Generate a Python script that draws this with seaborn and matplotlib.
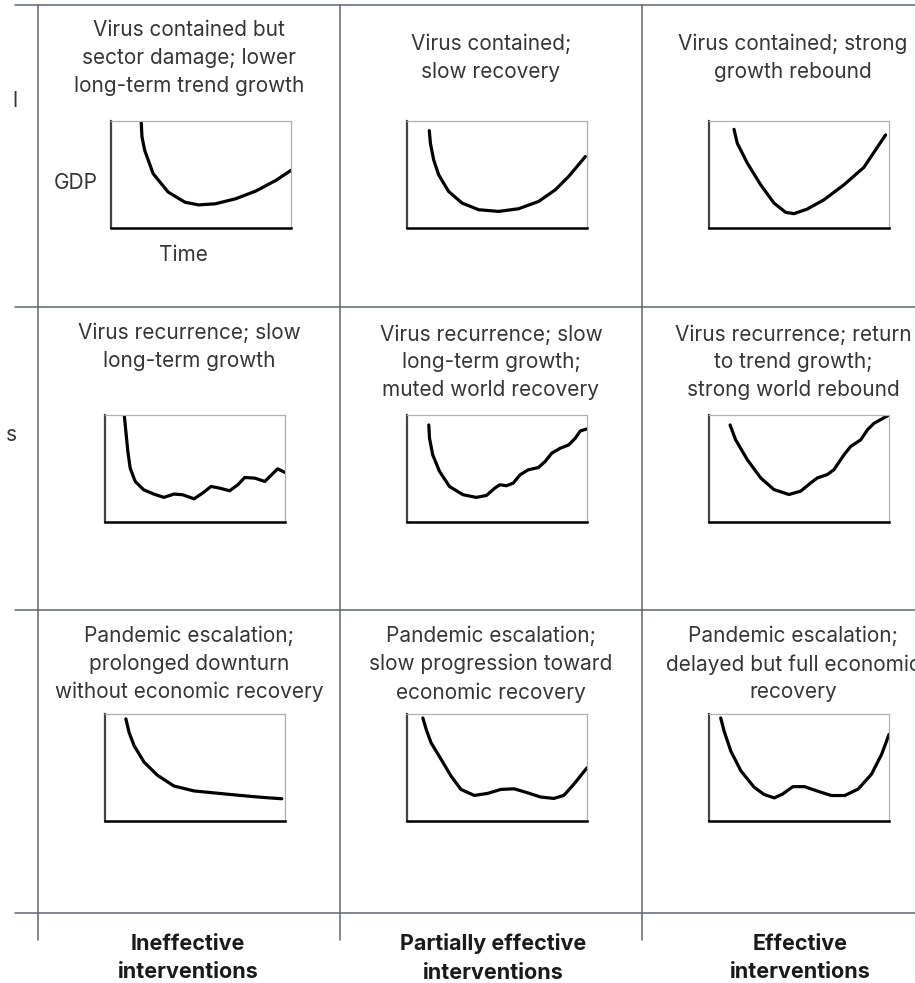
import numpy as np
import pandas as pd
import seaborn as sns
import matplotlib.pyplot as plt

# scenario grid: rows = virus spread, columns = public health response
row_titles = [
    ["Virus contained but\nsector damage; lower\nlong-term trend growth",
     "Virus contained;\nslow recovery",
     "Virus contained; strong\ngrowth rebound"],
    ["Virus recurrence; slow\nlong-term growth",
     "Virus recurrence; slow\nlong-term growth;\nmuted world recovery",
     "Virus recurrence; return\nto trend growth;\nstrong world rebound"],
    ["Pandemic escalation;\nprolonged downturn\nwithout economic recovery",
     "Pandemic escalation;\nslow progression toward\neconomic recovery",
     "Pandemic escalation;\ndelayed but full economic\nrecovery"],
]
col_labels = ["Ineffective\ninterventions", "Partially effective\ninterventions", "Effective\ninterventions"]
side_labels = ["l", "s"]

# GDP sketches (time on x, GDP on y, both 0-100)
x_contained_ineff = [16.8, 17.2, 18.7, 23.4, 31.8, 41.1, 48.6, 57.9, 69.2, 80.4, 91.6, 100]
y_contained_ineff = [98.4, 85.3, 72.7, 50.8, 33.5, 24.1, 21.6, 22.6, 27.3, 34.5, 44.5, 53.9]
x_contained_part = [12.4, 13.0, 14.8, 17.6, 23.1, 30.6, 39.8, 50.9, 62.0, 73.1, 82.4, 89.8, 99.1]
y_contained_part = [91.0, 79.2, 63.7, 49.7, 34.2, 23.3, 17.1, 15.5, 18.0, 24.8, 35.7, 48.1, 66.8]
x_contained_eff = [13.9, 15.7, 21.3, 28.7, 36.1, 42.6, 47.2, 54.6, 63.9, 75.0, 86.1, 98.1]
y_contained_eff = [92.2, 79.2, 60.6, 40.4, 23.3, 14.6, 13.4, 17.7, 26.4, 40.4, 56.8, 87.0]

x_recur_ineff = [10.7, 11.6, 12.7, 14.0, 16.8, 21.5, 27.1, 32.7, 38.3, 43.0, 49.5, 54.2,
                 58.9, 63.6, 69.2, 73.8, 77.6, 83.2, 88.8, 92.5, 95.9, 100]
y_recur_ineff = [100, 84.5, 65.8, 50.3, 37.9, 30.1, 26.1, 23.0, 26.1, 25.5, 21.7, 27.0,
                 33.2, 31.7, 29.2, 34.8, 41.6, 41.0, 37.9, 44.1, 49.7, 46.3]
x_recur_part = [12.1, 12.5, 14.3, 18.1, 23.6, 31.1, 38.5, 44.1, 48.8, 51.6, 55.3, 59.0,
                62.8, 67.4, 73.0, 76.7, 80.4, 85.1, 89.8, 93.5, 96.3, 100]
y_recur_part = [90.7, 78.3, 62.7, 47.2, 33.2, 25.5, 23.0, 24.8, 31.7, 34.8, 33.9, 36.3,
                44.1, 48.8, 50.9, 56.5, 64.3, 68.9, 72.0, 78.3, 85.1, 87.0]
x_recur_eff = [11.7, 14.8, 21.3, 28.7, 36.1, 44.4, 50.9, 56.5, 60.2, 65.7, 69.4, 75.0,
               78.7, 84.3, 88.0, 91.7, 100]
y_recur_eff = [90.7, 76.8, 58.2, 41.2, 30.3, 25.7, 28.8, 36.5, 41.2, 44.3, 48.9, 62.8,
               70.6, 76.8, 86.1, 92.3, 100]

x_escal_ineff = [11.6, 13.4, 16.2, 21.7, 29.1, 38.3, 49.4, 62.2, 75.1, 88.0, 98.2]
y_escal_ineff = [95.4, 82.6, 70.3, 55.0, 42.8, 32.7, 28.1, 26.0, 23.9, 22.0, 20.8]
x_escal_part = [8.8, 10.7, 13.4, 19.0, 24.5, 30.0, 37.4, 44.8, 52.1, 59.5, 66.9, 74.2,
                81.6, 87.1, 92.6, 100]
y_escal_part = [96.3, 85.4, 73.0, 57.5, 41.9, 29.5, 23.9, 25.8, 29.5, 30.1, 26.4, 22.4,
                21.1, 23.9, 34.2, 49.7]
x_escal_eff = [6.5, 8.4, 12.1, 17.7, 25.1, 30.7, 36.3, 41.0, 46.6, 53.1, 60.5, 68.0,
               75.4, 82.9, 90.3, 95.9, 100]
y_escal_eff = [96.3, 84.0, 65.4, 46.9, 31.5, 24.7, 21.6, 25.3, 32.1, 32.1, 27.8, 23.8,
               23.8, 29.9, 43.8, 62.3, 80.9]

curves = [
    [(x_contained_ineff, y_contained_ineff), (x_contained_part, y_contained_part), (x_contained_eff, y_contained_eff)],
    [(x_recur_ineff, y_recur_ineff), (x_recur_part, y_recur_part), (x_recur_eff, y_recur_eff)],
    [(x_escal_ineff, y_escal_ineff), (x_escal_part, y_escal_part), (x_escal_eff, y_escal_eff)],
]

sns.set_style("white")
plt.rcParams["font.family"] = ["Inter", "DejaVu Sans"]

W, H = 915, 983
fig = plt.figure(figsize=(W / 100, H / 100), dpi=100)
fig.patch.set_facecolor("white")

# background axis in pixel units for the grid and the labels
bg = fig.add_axes([0, 0, 1, 1])
bg.set_xlim(0, W)
bg.set_ylim(H, 0)
bg.axis("off")

grid_col = "#5f6670"
for yy in [5, 307, 610, 913]:
    bg.plot([15, W], [yy, yy], color=grid_col, lw=1.1)
for xx in [38, 340, 642]:
    bg.plot([xx, xx], [5, 940], color=grid_col, lw=1.1)

text_col = "#363636"
title_x = [189, 491, 793]
title_y = [[58, 58, 58], [347, 362, 362], [664, 664, 664]]
for r in range(3):
    for c in range(3):
        bg.text(title_x[c], title_y[r][c], row_titles[r][c], ha="center", va="center",
                fontsize=15, color=text_col, linespacing=1.48)

for lab, yy in zip(side_labels, [101, 435]):
    bg.text(17, yy, lab, ha="right", va="center", fontsize=15, color=text_col)

for lab, xx in zip(col_labels, [188, 493, 800]):
    bg.text(xx, 958, lab, ha="center", va="center", fontsize=15.5, color="#1a1a1a",
            fontweight="bold", linespacing=1.55)

bg.text(76, 183, "GDP", ha="center", va="center", fontsize=15, color=text_col)
bg.text(183, 255, "Time", ha="center", va="center", fontsize=15, color=text_col)

# small sketch panels
box_w, box_h = 180, 107
box_left = [[111, 407, 709], [105, 407, 709], [105, 407, 709]]
box_top = [121, 415, 714]

for r in range(3):
    for c in range(3):
        left = box_left[r][c]
        top = box_top[r]
        ax = fig.add_axes([left / W, 1 - (top + box_h) / H, box_w / W, box_h / H])
        cx, cy = curves[r][c]
        df = pd.DataFrame({"time": cx, "gdp": cy})
        sns.lineplot(data=df, x="time", y="gdp", ax=ax, color="black", lw=2.3,
                     sort=False, estimator=None, solid_joinstyle="round",
                     solid_capstyle="round")
        ax.set_xlim(0, 100)
        ax.set_ylim(0, 100)
        ax.set_xticks([])
        ax.set_yticks([])
        ax.set_xlabel("")
        ax.set_ylabel("")
        ax.spines["left"].set_color("#444444")
        ax.spines["left"].set_linewidth(1.6)
        ax.spines["bottom"].set_color("black")
        ax.spines["bottom"].set_linewidth(1.8)
        for s in ["top", "right"]:
            ax.spines[s].set_color("#b0b0b0")
            ax.spines[s].set_linewidth(0.9)
        for s in ax.spines.values():
            s.set_visible(True)

fig.savefig("out.png", dpi=100, facecolor="white")
